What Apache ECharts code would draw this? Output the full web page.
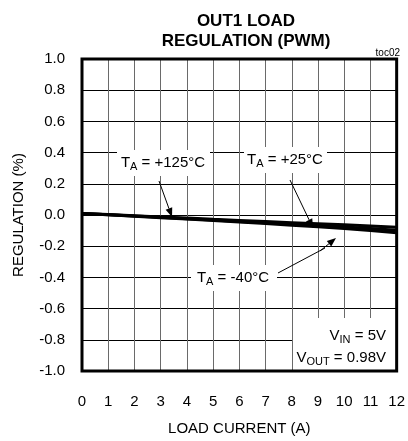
<!DOCTYPE html>
<html><head><meta charset="utf-8">
<script src="https://cdn.jsdelivr.net/npm/echarts@6/dist/echarts.min.js"></script>
<style>html,body{margin:0;padding:0;background:#fff}#c{width:408px;height:441px}</style>
</head><body><div id="c"></div>
<script>
var loadCurrent = [0,1,2,3,4,5,6,7,8,9,10,11,12];
var reg25  = [0.010,0.003,-0.005,-0.013,-0.020,-0.028,-0.035,-0.042,-0.049,-0.056,-0.063,-0.070,-0.078];
var reg125 = [0.010,0.002,-0.007,-0.015,-0.024,-0.032,-0.041,-0.050,-0.059,-0.068,-0.077,-0.087,-0.097];
var regM40 = [0.010,0.001,-0.008,-0.017,-0.026,-0.035,-0.045,-0.055,-0.065,-0.075,-0.086,-0.100,-0.114];
var yTicks = [-1.0,-0.8,-0.6,-0.4,-0.2,0.0,0.2,0.4,0.6,0.8,1.0];
var xTicks = [0,1,2,3,4,5,6,7,8,9,10,11,12];

var FONT = '"Liberation Sans",Arial,sans-serif';
function pairs(ys){ return loadCurrent.map(function(x,i){return [x, ys[i]];}); }
var chart = echarts.init(document.getElementById('c'), null, {renderer:'canvas'});

var rich = {
  m:{fontFamily:FONT,fontSize:15,color:'#000'},
  s:{fontFamily:FONT,fontSize:11,color:'#000',padding:[8,0,0,0]}
};
var graphics = [];
function box(x,y,w,h){
  graphics.push({type:'rect', z:50, shape:{x:x,y:y,width:w,height:h}, style:{fill:'#fff', stroke:null}});
}
function txt(x,y,t,align){
  graphics.push({type:'text', z:60, x:x, y:y, style:{text:t, rich:rich, align:align||'center', verticalAlign:'middle'}});
}
function arrow(x1,y1,x2,y2){
  var dx=x2-x1, dy=y2-y1, L=Math.sqrt(dx*dx+dy*dy), ux=dx/L, uy=dy/L;
  var hl=9, hw=3.5;
  var bx=x2-ux*hl, by=y2-uy*hl;
  graphics.push({type:'line', z:60, shape:{x1:x1,y1:y1,x2:bx,y2:by}, style:{stroke:'#000',lineWidth:1}});
  graphics.push({type:'polygon', z:60, shape:{points:[[x2,y2],[bx-uy*hw,by+ux*hw],[bx+uy*hw,by-ux*hw]]}, style:{fill:'#000'}});
}

box(117,150,93,26);
txt(163,163,'{m|T}{s|A}{m| = +125°C}');
box(244,147,83,26);
txt(285,160,'{m|T}{s|A}{m| = +25°C}');
box(191,265,86,26);
txt(233,278,'{m|T}{s|A}{m| = -40°C}');
arrow(159,181,172,217);
arrow(290,180,313,228);
graphics.push({type:'line', z:60, shape:{x1:278,y1:273,x2:325,y2:248}, style:{stroke:'#000',lineWidth:1}});
arrow(320,251,336,238);
box(293,318,105,60);
txt(386,336,'{m|V}{s|IN}{m| = 5V}','right');
txt(386,358,'{m|V}{s|OUT}{m| = 0.98V}','right');
graphics.push({type:'text', z:60, x:400, y:53, style:{text:'toc02', fontFamily:FONT, fontSize:10, fill:'#000', align:'right', verticalAlign:'middle'}});

function lineSeries(name, ys){
  return {name:name, type:'line', data:pairs(ys), showSymbol:false, symbol:'none',
    lineStyle:{color:'#000', width:3}, z:70};
}

chart.setOption({
  animation:false,
  backgroundColor:'#fff',
  title:{
    text:'OUT1 LOAD\nREGULATION (PWM)', left:241, top:6, textAlign:'center',
    textStyle:{fontFamily:FONT, fontWeight:'bold', fontSize:17, lineHeight:20, color:'#000'}
  },
  grid:{left:82, right:7, top:59, bottom:61, show:true, borderColor:'#000', borderWidth:3, backgroundColor:'transparent', z:80},
  xAxis:{
    type:'value', min:0, max:12, interval:1,
    name:'LOAD CURRENT (A)', nameLocation:'middle', nameGap:50,
    nameTextStyle:{fontFamily:FONT, fontSize:15, color:'#000'},
    axisLine:{show:false}, axisTick:{show:false},
    axisLabel:{fontFamily:FONT, fontSize:15, color:'#000', margin:23,
      formatter:function(v){ return xTicks.indexOf(v)>=0 ? String(v) : ''; }},
    splitLine:{show:true, lineStyle:{color:'#6a6a6a', width:1}}
  },
  yAxis:{
    type:'value', min:-1, max:1, interval:0.2,
    name:'REGULATION (%)', nameLocation:'middle', nameGap:56,
    nameTextStyle:{fontFamily:FONT, fontSize:15, color:'#000'},
    axisLine:{show:false}, axisTick:{show:false},
    axisLabel:{fontFamily:FONT, fontSize:15, color:'#000', margin:17,
      formatter:function(v){ var r=Math.round(v*10)/10; return yTicks.indexOf(r)>=0 ? r.toFixed(1) : ''; }},
    splitLine:{show:true, lineStyle:{color:'#000', width:1}}
  },
  series:[lineSeries('+25°C', reg25), lineSeries('+125°C', reg125), lineSeries('-40°C', regM40)],
  graphic:graphics
});
</script></body></html>
